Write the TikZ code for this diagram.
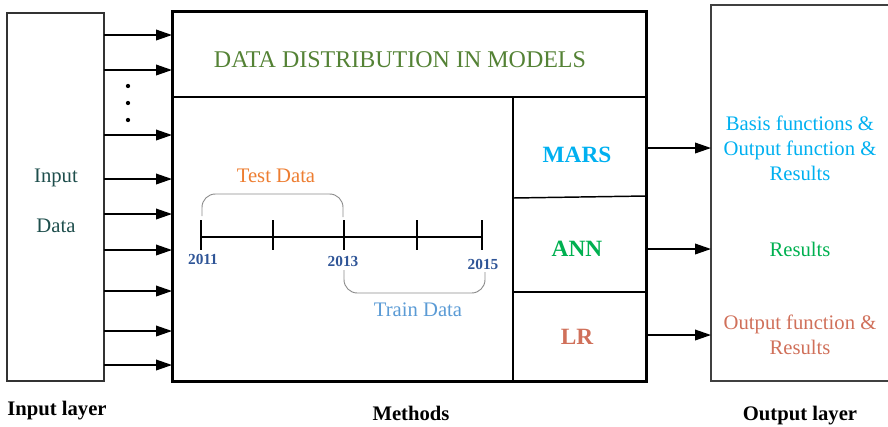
\documentclass[tikz,border=0pt]{standalone}
\usepackage{fontspec}
\setmainfont{Liberation Serif}
\usepackage{xcolor}
\usetikzlibrary{arrows.meta}
\definecolor{Title}{HTML}{548235}
\definecolor{Teal}{HTML}{1E4E4C}
\definecolor{Sky}{HTML}{00B0F0}
\definecolor{Leaf}{HTML}{00B050}
\definecolor{Salmon}{HTML}{D0705A}
\definecolor{Orange}{HTML}{ED7D31}
\definecolor{Steel}{HTML}{5B9BD5}
\definecolor{Navy}{HTML}{2F5597}

\begin{document}
\begin{tikzpicture}[x=0.75pt,y=-0.75pt,
    box/.style={draw, inner sep=0pt, outer sep=0pt, anchor=north west},
    arr/.style={-{Triangle[length=12pt,width=8pt]}, line width=1.1pt},
    txt/.style={font=\fontsize{15.5}{18.75}\selectfont, align=center},
    lbl/.style={font=\fontsize{15.5}{18.75}\selectfont\bfseries, anchor=base},
    year/.style={font=\fontsize{11.5}{13}\selectfont\bfseries, text=Navy, anchor=base},
    brace/.style={draw=black!45, line width=0.7pt, rounded corners=10pt}]
  \useasboundingbox (0,0) rectangle (888,426);

  \node[box, draw=black!80, line width=0.8pt, minimum width=72.75pt, minimum height=276pt] (inbox) at (7,13) {};
  \node[box, line width=2.25pt, minimum width=355.5pt, minimum height=277.5pt] (main) at (172,11) {};
  \node[box, draw=none, minimum width=132.75pt, minimum height=282pt] (outbox) at (711,5) {};
  \draw[black!75, line width=0.8pt] (outbox.north east) -- (outbox.north west) -- (outbox.south west) -- (outbox.south east);

  \draw[line width=1.1pt] (172,97) -- (646,97);
  \draw[line width=1.1pt] (513,97) -- (513,381);
  \draw[line width=1.1pt] (513,198) -- (646,196);
  \draw[line width=1.1pt] (513,292) -- (646,292);

  \node[txt, font=\fontsize{18}{20}\selectfont, text=Title, anchor=base] (title) at (400,67) {DATA DISTRIBUTION IN MODELS};
  \node[txt, text=Teal, anchor=base] (input) at (56,182) {Input};
  \node[txt, text=Teal, anchor=base] (data) at (56,232) {Data};

  \foreach \y in {35,70,135,179,214,250,291,331,365}
    \draw[arr] (inbox.east |- 0,\y) -- (main.west |- 0,\y);
  \foreach \y in {86,103,120}
    \fill (128,\y) circle (1.6pt);

  \draw[line width=1.4pt] (201,237) -- (482,237);
  \foreach \x in {201,273,344,417,482}
    \draw[line width=1.4pt] (\x,220) -- (\x,250);
  \node[year] (y2011) at (203,264) {2011};
  \node[year] (y2013) at (343,266) {2013};
  \node[year] (y2015) at (483,269) {2015};

  \draw[brace] (202,216) -- (202,194) -- (343,194) -- (343,217);
  \draw[brace] (344,270) -- (344,293) -- (485,293) -- (485,272);
  \node[txt, text=Orange, anchor=base] (test) at (276,182) {Test Data};
  \node[txt, text=Steel, anchor=base] (train) at (418,316) {Train Data};

  \node[txt, font=\fontsize{17.5}{20}\selectfont\bfseries, text=Sky, anchor=base] (mars) at (577,162) {MARS};
  \node[txt, font=\fontsize{17.5}{20}\selectfont\bfseries, text=Leaf, anchor=base] (ann) at (577,256) {ANN};
  \node[txt, font=\fontsize{17.5}{20}\selectfont\bfseries, text=Salmon, anchor=base] (lr) at (577,344) {LR};

  \node[txt, text=Sky] (marsout) at (800,148) {Basis functions \&\\Output function \&\\Results};
  \node[txt, text=Leaf] (annout) at (800,249) {Results};
  \node[txt, text=Salmon] (lrout) at (800,335) {Output function \&\\Results};

  \draw[arr] (main.east |- marsout) -- (outbox.west |- marsout);
  \draw[arr] (main.east |- annout) -- (outbox.west |- annout);
  \draw[arr] (main.east |- lrout) -- (outbox.west |- lrout);

  \node[lbl] (inlayer) at (57,415) {Input layer};
  \node[lbl] (methods) at (411,420) {Methods};
  \node[lbl] (outlayer) at (800,420) {Output layer};
\end{tikzpicture}
\end{document}
